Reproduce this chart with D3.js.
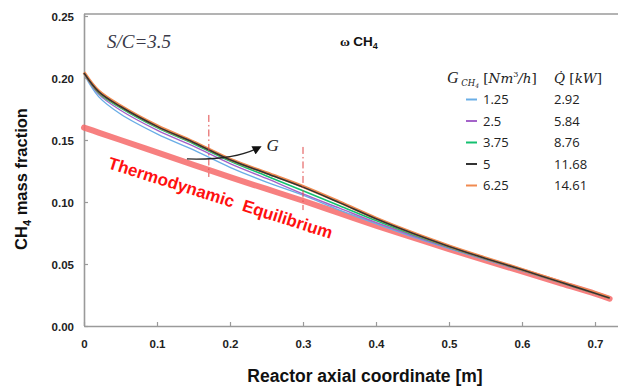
<!DOCTYPE html>
<html>
<head>
<meta charset="utf-8">
<script src="https://cdn.jsdelivr.net/npm/d3@7"></script>
<style>
  html, body { margin: 0; padding: 0; background: #fff; }
  svg { display: block; }
</style>
</head>
<body>
<svg id="chart" width="618" height="387"></svg>
<script>
// Axial positions along the reactor [m]
const axial = [0, 0.02, 0.05, 0.1, 0.15, 0.2, 0.25, 0.3, 0.35, 0.4, 0.45, 0.5, 0.55, 0.6, 0.65, 0.7, 0.72];

// CH4 mass fraction for each methane feed rate
const w125 = [0.203, 0.185, 0.171, 0.155, 0.142, 0.128, 0.116, 0.1055, 0.0935, 0.0825, 0.0720, 0.0625, 0.0533, 0.0444, 0.0352, 0.0262, 0.0223];
const w250 = [0.204, 0.187, 0.174, 0.158, 0.145, 0.131, 0.119, 0.1065, 0.0950, 0.0835, 0.0728, 0.0630, 0.0537, 0.0447, 0.0355, 0.0263, 0.0224];
const w375 = [0.204, 0.188, 0.176, 0.160, 0.147, 0.133, 0.121, 0.109, 0.0970, 0.0850, 0.0738, 0.0636, 0.0541, 0.0450, 0.0356, 0.0264, 0.0224];
const w500 = [0.204, 0.189, 0.177, 0.161, 0.148, 0.134, 0.123, 0.112, 0.0995, 0.0865, 0.0748, 0.0642, 0.0545, 0.0453, 0.0358, 0.0265, 0.0225];
const w625 = [0.2045, 0.1895, 0.1775, 0.1615, 0.1485, 0.1345, 0.1235, 0.1125, 0.1000, 0.0870, 0.0752, 0.0646, 0.0549, 0.0456, 0.0361, 0.0268, 0.0228];

// Equilibrium composition
const wEq = [0.160, 0.156, 0.150, 0.140, 0.130, 0.120, 0.1105, 0.101, 0.091, 0.081, 0.0715, 0.062, 0.053, 0.044, 0.035, 0.026, 0.022];

// Legend entries
const feedRates = ["1.25", "2.5", "3.75", "5", "6.25"];
const heatDuty = ["2.92", "5.84", "8.76", "11.68", "14.61"];
const seriesColors = ["#6aaee6", "#a463c9", "#14c070", "#333333", "#f08a50"];
const seriesValues = [w125, w250, w375, w500, w625];

// Axis ticks
const xTicks = [0, 0.1, 0.2, 0.3, 0.4, 0.5, 0.6, 0.7];
const xTickLabels = ["0", "0.1", "0.2", "0.3", "0.4", "0.5", "0.6", "0.7"];
const yTicks = [0, 0.05, 0.10, 0.15, 0.20, 0.25];
const yTickLabels = ["0.00", "0.05", "0.10", "0.15", "0.20", "0.25"];

const svg = d3.select("#chart");
const x = d3.scaleLinear().domain([0, 0.7315]).range([84, 618]);
const y = d3.scaleLinear().domain([0, 0.25]).range([326, 16]);

const axisColor = "#9a9a9a";

// Frame: top border line
svg.append("line")
  .attr("x1", x(0)).attr("x2", x(0.7315))
  .attr("y1", 14).attr("y2", 14)
  .attr("stroke", axisColor).attr("stroke-width", 1.5);

// X axis
const xAxis = svg.append("g").attr("transform", `translate(0,${y(0)})`)
  .call(d3.axisBottom(x).tickValues(xTicks).tickSize(-4).tickSizeOuter(0)
    .tickFormat((d, i) => xTickLabels[i]));
xAxis.select(".domain").attr("stroke", axisColor).attr("stroke-width", 1.6);
xAxis.selectAll(".tick line").attr("stroke", axisColor).attr("stroke-width", 1.2);
xAxis.selectAll(".tick text")
  .attr("y", 22).attr("dy", 0)
  .attr("fill", "#222").attr("font-family", "Liberation Sans, Arial, sans-serif")
  .attr("font-weight", "bold").attr("font-size", 11.5);

// Y axis
const yAxis = svg.append("g").attr("transform", `translate(${x(0)},0)`)
  .call(d3.axisLeft(y).tickValues(yTicks).tickSize(-4).tickSizeOuter(0)
    .tickFormat((d, i) => yTickLabels[i]));
yAxis.select(".domain").attr("stroke", axisColor).attr("stroke-width", 1.6)
  .attr("d", `M0.5,${y(0)}V14`);
yAxis.selectAll(".tick line").attr("stroke", axisColor).attr("stroke-width", 1.2);
yAxis.selectAll(".tick text")
  .attr("x", -10).attr("dy", "0.35em")
  .attr("fill", "#222").attr("font-family", "Liberation Sans, Arial, sans-serif")
  .attr("font-weight", "bold").attr("font-size", 11.5);

// Axis titles
svg.append("text")
  .attr("x", 365).attr("y", 382)
  .attr("text-anchor", "middle")
  .attr("font-family", "Liberation Sans, Arial, sans-serif")
  .attr("font-weight", "bold").attr("font-size", 17.5).attr("fill", "#111")
  .text("Reactor axial coordinate [m]");

const yTitle = svg.append("text")
  .attr("transform", "translate(27,179) rotate(-90)")
  .attr("text-anchor", "middle")
  .attr("font-family", "Liberation Sans, Arial, sans-serif")
  .attr("font-weight", "bold").attr("font-size", 16.5).attr("fill", "#111");
yTitle.append("tspan").text("CH");
yTitle.append("tspan").attr("font-size", 11).attr("dy", 4).text("4");
yTitle.append("tspan").attr("dy", -4).text(" mass fraction");

// Line generator
const line = d3.line()
  .x((d, i) => x(axial[i]))
  .y(d => y(d))
  .curve(d3.curveCatmullRom.alpha(0.5));

// Equilibrium band
svg.append("path")
  .attr("d", line(wEq))
  .attr("fill", "none")
  .attr("stroke", "#f66a6a").attr("stroke-opacity", 0.85)
  .attr("stroke-width", 6).attr("stroke-linecap", "round");

// Feed-rate series (drawn low to high flow, orange under black)
const drawOrder = [0, 1, 2, 4, 3];
const widths = [1.4, 1.4, 1.6, 1.6, 3.2];
drawOrder.forEach(k => {
  svg.append("path")
    .attr("d", line(seriesValues[k]))
    .attr("fill", "none")
    .attr("stroke", seriesColors[k])
    .attr("stroke-width", widths[k])
    .attr("stroke-linejoin", "round");
});

// Dash-dot reference markers
const markers = [
  { x: 0.171, y0: 0.1702, y1: 0.1202 },
  { x: 0.300, y0: 0.1444, y1: 0.0935 }
];
markers.forEach(m => {
  svg.append("line")
    .attr("x1", x(m.x)).attr("x2", x(m.x))
    .attr("y1", y(m.y0)).attr("y2", y(m.y1))
    .attr("stroke", "#e04848").attr("stroke-width", 1)
    .attr("stroke-dasharray", "7,3,1.5,3");
});

// Increasing-G arrow
const defs = svg.append("defs");
defs.append("marker")
  .attr("id", "arrowHead")
  .attr("viewBox", "0 0 10 10").attr("refX", 7).attr("refY", 5)
  .attr("markerWidth", 8).attr("markerHeight", 7)
  .attr("markerUnits", "strokeWidth")
  .attr("orient", "auto")
  .append("path").attr("d", "M0,0L10,5L0,10Z").attr("fill", "#111");

const arrow = d3.path();
arrow.moveTo(x(0.141), y(0.1347));
arrow.quadraticCurveTo(x(0.205), y(0.1335), x(0.240), y(0.1440));
svg.append("path")
  .attr("d", arrow.toString())
  .attr("fill", "none").attr("stroke", "#222").attr("stroke-width", 1.3)
  .attr("marker-end", "url(#arrowHead)");

svg.append("text")
  .attr("x", x(0.250)).attr("y", y(0.1415))
  .attr("font-family", "Liberation Serif, Times New Roman, serif")
  .attr("font-style", "italic").attr("font-size", 17).attr("fill", "#222")
  .text("G");

// Equilibrium label along the band
svg.append("text")
  .attr("transform", `translate(${x(0.0315)},${y(0.1274)}) rotate(17.6)`)
  .attr("font-family", "Liberation Sans, Arial, sans-serif")
  .attr("font-weight", "bold").attr("font-size", 17).attr("fill", "#ff1010")
  .attr("xml:space", "preserve")
  .text("Thermodynamic  Equilibrium");

// Steam-to-carbon ratio note
svg.append("text")
  .attr("x", 107).attr("y", 48)
  .attr("font-family", "Liberation Serif, Times New Roman, serif")
  .attr("font-style", "italic").attr("font-size", 19).attr("fill", "#3a3a48")
  .text("S/C=3.5");

// Species heading
const omega = svg.append("text")
  .attr("x", 340).attr("y", 46)
  .attr("font-family", "Liberation Sans, Arial, sans-serif")
  .attr("font-weight", "bold").attr("font-size", 13.5).attr("fill", "#111");
omega.append("tspan").attr("font-family", "Liberation Serif, serif").text("ω ");
omega.append("tspan").text("CH");
omega.append("tspan").attr("font-size", 9).attr("dy", 3).text("4");

// Legend header
const head = svg.append("text")
  .attr("x", 447).attr("y", 83)
  .attr("font-family", "DejaVu Serif, Liberation Serif, serif")
  .attr("font-style", "italic").attr("font-size", 13.5).attr("fill", "#222");
head.append("tspan").attr("font-family", "Liberation Serif, serif").attr("font-size", 16).text("G");
head.append("tspan").attr("font-size", 8.5).attr("dy", 3).text(" CH");
head.append("tspan").attr("font-size", 6).attr("dy", 1.5).text("4");
head.append("tspan").attr("dy", -4.5).attr("font-style", "normal").text(" [");
head.append("tspan").text("Nm");
head.append("tspan").attr("font-size", 8).attr("dy", -6).attr("font-style", "normal").text("3");
head.append("tspan").attr("dy", 6).text("/h");
head.append("tspan").attr("font-style", "normal").text("]");

const head2 = svg.append("text")
  .attr("x", 554).attr("y", 83)
  .attr("font-family", "DejaVu Serif, Liberation Serif, serif")
  .attr("font-style", "italic").attr("font-size", 13.5).attr("fill", "#222");
head2.append("tspan").text("Q\u0307");
head2.append("tspan").attr("font-style", "normal").text(" [");
head2.append("tspan").text("kW");
head2.append("tspan").attr("font-style", "normal").text("]");

// Legend rows
const legendY = d3.scaleLinear().domain([0, 4]).range([99.5, 185.5]);
feedRates.forEach((lab, i) => {
  const cy = legendY(i);
  svg.append("line")
    .attr("x1", 466).attr("x2", 477)
    .attr("y1", cy).attr("y2", cy)
    .attr("stroke", seriesColors[i]).attr("stroke-width", 2);
  svg.append("text")
    .attr("x", 483).attr("y", cy).attr("dy", "0.36em")
    .attr("font-family", "Open Sans, Noto Sans, sans-serif")
    .attr("font-size", 13).attr("fill", "#222")
    .text(lab);
  svg.append("text")
    .attr("x", 554).attr("y", cy).attr("dy", "0.36em")
    .attr("font-family", "Open Sans, Noto Sans, sans-serif")
    .attr("font-size", 13).attr("fill", "#222")
    .text(heatDuty[i]);
});
</script>
</body>
</html>
